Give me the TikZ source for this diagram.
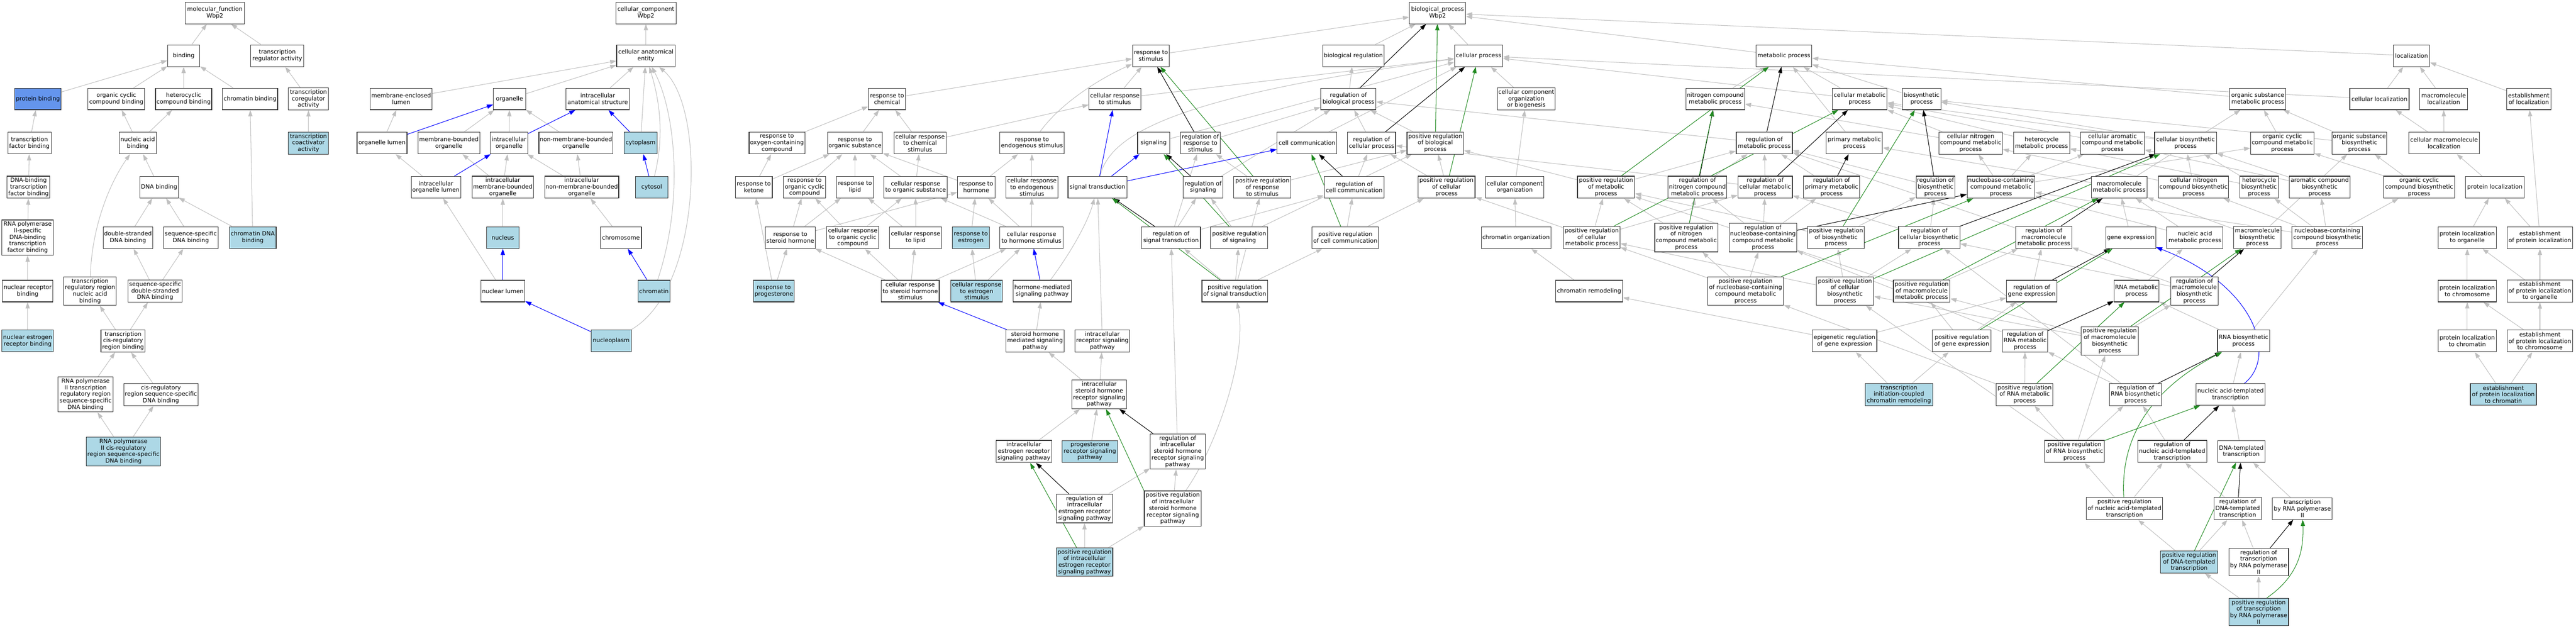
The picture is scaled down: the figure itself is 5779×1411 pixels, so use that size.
\documentclass[tikz,border=0pt]{standalone}
\usepackage{fontspec}
\setmainfont{DejaVu Sans}
\usetikzlibrary{arrows.meta,backgrounds}
\definecolor{lblue}{HTML}{ADD8E6}
\definecolor{cblue}{HTML}{6495ED}
\definecolor{egray}{HTML}{C0C0C0}
\definecolor{egreen}{HTML}{228B22}
\tikzset{
  gobox/.style={draw=black!80, line width=1.3pt, align=center, inner xsep=2pt, inner ysep=3.8pt,
    minimum height=48.5pt, font=\fontsize{13}{14.7}\selectfont},
  edgebase/.style={line width=1.2pt, -{Triangle[length=14pt,width=9.5pt]}},
  isa/.style={edgebase, draw=egray},
  partof/.style={edgebase, draw=blue},
  regl/.style={edgebase, draw=black},
  posr/.style={edgebase, draw=egreen}
}
\newcommand{\GOn}[6][white]{\node[gobox, fill=#1, minimum width=#5pt] (#2) at (#3,#4) {#6};}
\begin{document}
\begin{tikzpicture}[x=1pt,y=-1pt]
\useasboundingbox (0,0) rectangle (5779,1411);
% ---------- molecular function ----------
\GOn{mf}{482}{29}{132}{molecular\_function\\Wbp2}
\GOn{binding}{412}{125}{72}{binding}
\GOn{treg}{622}{125}{119}{transcription\\regulator activity}
\GOn[cblue]{protb}{85}{222}{104}{protein binding}
\GOn{occb}{261}{222}{127}{organic cyclic\\compound binding}
\GOn{hccb}{412}{222}{126}{heterocyclic\\compound binding}
\GOn{chromb}{561}{222}{124}{chromatin binding}
\GOn{tcoreg}{692}{222}{90}{transcription\\coregulator\\activity}
\GOn{tfb}{66}{321}{97}{transcription\\factor binding}
\GOn{nab}{309}{321}{83}{nucleic acid\\binding}
\GOn[lblue]{tcoact}{692}{321}{90}{transcription\\coactivator\\activity}
\GOn{dbtfb}{64}{420}{96}{DNA-binding\\transcription\\factor binding}
\GOn{dnab}{357}{420}{86}{DNA binding}
\GOn{rnap2tfb}{62}{533}{115}{RNA polymerase\\II-specific\\DNA-binding\\transcription\\factor binding}
\GOn{dsdnab}{287}{533}{111}{double-stranded\\DNA binding}
\GOn{ssdnab}{428}{533}{122}{sequence-specific\\DNA binding}
\GOn[lblue]{chromdnab}{567}{533}{105}{chromatin DNA\\binding}
\GOn{nrb}{62}{653}{113}{nuclear receptor\\binding}
\GOn{trrnab}{202}{653}{118}{transcription\\regulatory region\\nucleic acid\\binding}
\GOn{ssdsdnab}{348}{653}{122}{sequence-specific\\double-stranded\\DNA binding}
\GOn[lblue]{nerb}{62}{765}{115}{nuclear estrogen\\receptor binding}
\GOn{tcrrb}{276}{765}{99}{transcription\\cis-regulatory\\region binding}
\GOn{rnap2trr}{192}{885}{123}{RNA polymerase\\II transcription\\regulatory region\\sequence-specific\\DNA binding}
\GOn{crrss}{361}{885}{167}{cis-regulatory\\region sequence-specific\\DNA binding}
\GOn[lblue]{rnap2crr}{277}{1013}{166}{RNA polymerase\\II cis-regulatory\\region sequence-specific\\DNA binding}
% ---------- cellular component ----------
\GOn{cc}{1449}{29}{135}{cellular\_component\\Wbp2}
\GOn{cae}{1449}{125}{131}{cellular anatomical\\entity}
\GOn{mel}{900}{222}{139}{membrane-enclosed\\lumen}
\GOn{organelle}{1143}{222}{72}{organelle}
\GOn{ias}{1341}{222}{142}{intracellular\\anatomical structure}
\GOn{orglumen}{857}{321}{112}{organelle lumen}
\GOn{mbo}{1007}{321}{139}{membrane-bounded\\organelle}
\GOn{io}{1142}{321}{84}{intracellular\\organelle}
\GOn{nmbo}{1292}{321}{166}{non-membrane-bounded\\organelle}
\GOn[lblue]{cytoplasm}{1437}{321}{74}{cytoplasm}
\GOn{iol}{978}{420}{111}{intracellular\\organelle lumen}
\GOn{imbo}{1128}{420}{138}{intracellular\\membrane-bounded\\organelle}
\GOn{inmbo}{1305}{420}{166}{intracellular\\non-membrane-bounded\\organelle}
\GOn[lblue]{cytosol}{1462}{420}{73}{cytosol}
\GOn[lblue]{nucleus}{1128}{533}{73}{nucleus}
\GOn{chromosome}{1393}{533}{92}{chromosome}
\GOn{nuclumen}{1128}{653}{99}{nuclear lumen}
\GOn[lblue]{chromatin}{1467}{653}{72}{chromatin}
\GOn[lblue]{nucleoplasm}{1371}{765}{90}{nucleoplasm}
% ---------- biological process ----------
\GOn{bp}{3225}{29}{126}{biological\_process\\Wbp2}
\GOn{rstim}{2582}{125}{83}{response to\\stimulus}
\GOn{bioreg}{3036}{125}{138}{biological regulation}
\GOn{cellproc}{3317}{125}{108}{cellular process}
\GOn{metab}{4002}{125}{125}{metabolic process}
\GOn{loc}{5410}{125}{81}{localization}
% rank 3
\GOn{rchem}{1990}{222}{83}{response to\\chemical}
\GOn{crstim}{2501}{222}{116}{cellular response\\to stimulus}
\GOn{regbp}{3025}{222}{124}{regulation of\\biological process}
\GOn{ccob}{3424}{222}{130}{cellular component\\organization\\or biogenesis}
\GOn{ncmp}{3848}{222}{131}{nitrogen compound\\metabolic process}
\GOn{cmp}{4172}{222}{123}{cellular metabolic\\process}
\GOn{biosyn}{4311}{222}{86}{biosynthetic\\process}
\GOn{osmp}{5065}{222}{126}{organic substance\\metabolic process}
\GOn{cellloc}{5338}{222}{133}{cellular localization}
\GOn{macloc}{5482}{222}{107}{macromolecule\\localization}
\GOn{estloc}{5673}{222}{99}{establishment\\of localization}
% rank 4
\GOn{rocc}{1743}{321}{125}{response to\\oxygen-containing\\compound}
\GOn{ros}{1918}{321}{123}{response to\\organic substance}
\GOn{crcs}{2064}{321}{117}{cellular response\\to chemical\\stimulus}
\GOn{rendo}{2315}{321}{144}{response to\\endogenous stimulus}
\GOn{signaling}{2588}{321}{72}{signaling}
\GOn{rrs}{2693}{321}{89}{regulation of\\response to\\stimulus}
\GOn{cellcomm}{2932}{321}{134}{cell communication}
\GOn{regcp}{3077}{321}{108}{regulation of\\cellular process}
\GOn{posregbp}{3220}{321}{127}{positive regulation\\of biological\\process}
\GOn{regmp}{3958}{321}{126}{regulation of\\metabolic process}
\GOn{pmp}{4160}{321}{126}{primary metabolic\\process}
\GOn{cncmp}{4421}{321}{142}{cellular nitrogen\\compound metabolic\\process}
\GOn{hmp}{4580}{321}{126}{heterocycle\\metabolic process}
\GOn{camp}{4739}{321}{143}{cellular aromatic\\compound metabolic\\process}
\GOn{cbp}{4903}{321}{139}{cellular biosynthetic\\process}
\GOn{occmp}{5120}{321}{142}{organic cyclic\\compound metabolic\\process}
\GOn{osbp}{5293}{321}{123}{organic substance\\biosynthetic\\process}
\GOn{cmacloc}{5483}{321}{158}{cellular macromolecule\\localization}
% rank 5
\GOn{rket}{1691}{420}{83}{response to\\ketone}
\GOn{rocc2}{1805}{420}{95}{response to\\organic cyclic\\compound}
\GOn{rlipid}{1918}{420}{83}{response to\\lipid}
\GOn{cros}{2054}{420}{142}{cellular response\\to organic substance}
\GOn{rhorm}{2190}{420}{84}{response to\\hormone}
\GOn{crendo}{2315}{420}{117}{cellular response\\to endogenous\\stimulus}
\GOn{sigtrans}{2462}{420}{132}{signal transduction}
\GOn{regsig}{2699}{420}{89}{regulation of\\signaling}
\GOn{posregrs}{2832}{420}{128}{positive regulation\\of response\\to stimulus}
\GOn{regcc}{3038}{420}{135}{regulation of\\cell communication}
\GOn{posregcp}{3245}{420}{128}{positive regulation\\of cellular\\process}
\GOn{cco}{3398}{420}{130}{cellular component\\organization}
\GOn{posregmp}{3603}{420}{128}{positive regulation\\of metabolic\\process}
\GOn{regncmp}{3808}{420}{131}{regulation of\\nitrogen compound\\metabolic process}
\GOn{regcmp}{3960}{420}{122}{regulation of\\cellular metabolic\\process}
\GOn{regpmp}{4109}{420}{126}{regulation of\\primary metabolic\\process}
\GOn{regbiosyn}{4342}{420}{86}{regulation of\\biosynthetic\\process}
\GOn{nccmp}{4489}{420}{152}{nucleobase-containing\\compound metabolic\\process}
\GOn{macmp}{4754}{420}{125}{macromolecule\\metabolic process}
\GOn{cncbp}{4921}{420}{157}{cellular nitrogen\\compound biosynthetic\\process}
\GOn{hbp}{5068}{420}{87}{heterocycle\\biosynthetic\\process}
\GOn{acbp}{5204}{420}{137}{aromatic compound\\biosynthetic\\process}
\GOn{occbp}{5427}{420}{159}{organic cyclic\\compound biosynthetic\\process}
\GOn{protloc}{5597}{420}{131}{protein localization}
% rank 6
\GOn{rsteroid}{1773}{533}{112}{response to\\steroid hormone}
\GOn{crocc}{1913}{533}{117}{cellular response\\to organic cyclic\\compound}
\GOn{crlipid}{2054}{533}{117}{cellular response\\to lipid}
\GOn[lblue]{restr}{2178}{533}{83}{response to\\estrogen}
\GOn{crhorm}{2314}{533}{142}{cellular response\\to hormone stimulus}
\GOn{regst}{2627}{533}{132}{regulation of\\signal transduction}
\GOn{posregsig}{2780}{533}{128}{positive regulation\\of signaling}
\GOn{posregcc}{3018}{533}{149}{positive regulation\\of cell communication}
\GOn{chromorg}{3401}{533}{156}{chromatin organization}
\GOn{posregcmp}{3571}{533}{127}{positive regulation\\of cellular\\metabolic process}
\GOn{posregncmp}{3783}{533}{141}{positive regulation\\of nitrogen\\compound metabolic\\process}
\GOn{regnccmp}{3955}{533}{151}{regulation of\\nucleobase-containing\\compound metabolic\\process}
\GOn{posregbiosyn}{4119}{533}{127}{positive regulation\\of biosynthetic\\process}
\GOn{regcbp}{4328}{533}{138}{regulation of\\cellular biosynthetic\\process}
\GOn{regmacmp}{4585}{533}{126}{regulation of\\macromolecule\\metabolic process}
\GOn{geneexp}{4780}{533}{112}{gene expression}
\GOn{namp}{4924}{533}{126}{nucleic acid\\metabolic process}
\GOn{macbp}{5064}{533}{106}{macromolecule\\biosynthetic\\process}
\GOn{ncbp}{5221}{533}{158}{nucleobase-containing\\compound biosynthetic\\process}
\GOn{plorg}{5535}{533}{131}{protein localization\\to organelle}
\GOn{estploc}{5698}{533}{147}{establishment\\of protein localization}
% rank 7
\GOn[lblue]{rprog}{1736}{653}{91}{response to\\progesterone}
\GOn{crsteroid}{2042}{653}{130}{cellular response\\to steroid hormone\\stimulus}
\GOn[lblue]{crestr}{2191}{653}{116}{cellular response\\to estrogen\\stimulus}
\GOn{hmsp}{2338}{653}{131}{hormone-mediated\\signaling pathway}
\GOn{posregst}{2770}{653}{147}{positive regulation\\of signal transduction}
\GOn{chromrem}{3565}{653}{150}{chromatin remodeling}
\GOn{posregnccmp}{3916}{653}{170}{positive regulation\\of nucleobase-containing\\compound metabolic\\process}
\GOn{posregcbp}{4139}{653}{129}{positive regulation\\of cellular\\biosynthetic\\process}
\GOn{posregmacmp}{4311}{653}{127}{positive regulation\\of macromolecule\\metabolic process}
\GOn{reggeneexp}{4558}{653}{113}{regulation of\\gene expression}
\GOn{rnamp}{4793}{653}{101}{RNA metabolic\\process}
\GOn{regmacbp}{4923}{653}{106}{regulation of\\macromolecule\\biosynthetic\\process}
\GOn{plchrom}{5535}{653}{131}{protein localization\\to chromosome}
\GOn{estplorg}{5698}{653}{147}{establishment\\of protein localization\\to organelle}
% rank 8
\GOn{shmsp}{2322}{765}{131}{steroid hormone\\mediated signaling\\pathway}
\GOn{irsp}{2473}{765}{122}{intracellular\\receptor signaling\\pathway}
\GOn{epigen}{4138}{765}{145}{epigenetic regulation\\of gene expression}
\GOn{posreggeneexp}{4401}{765}{132}{positive regulation\\of gene expression}
\GOn{regrnamp}{4543}{765}{102}{regulation of\\RNA metabolic\\process}
\GOn{posregmacbp}{4733}{765}{128}{positive regulation\\of macromolecule\\biosynthetic\\process}
\GOn{rnabp}{5033}{765}{117}{RNA biosynthetic\\process}
\GOn{plchromatin}{5535}{765}{131}{protein localization\\to chromatin}
\GOn{estplchrom}{5698}{765}{147}{establishment\\of protein localization\\to chromosome}
% rank 9
\GOn{ishrsp}{2466}{885}{123}{intracellular\\steroid hormone\\receptor signaling\\pathway}
\GOn[lblue]{ticcr}{4260}{885}{151}{transcription\\initiation-coupled\\chromatin remodeling}
\GOn{posregrnamp}{4542}{885}{127}{positive regulation\\of RNA metabolic\\process}
\GOn{regrnabp}{4791}{885}{117}{regulation of\\RNA biosynthetic\\process}
\GOn{natt}{5004}{885}{154}{nucleic acid-templated\\transcription}
\GOn[lblue]{estplchromatin}{5616}{885}{148}{establishment\\of protein localization\\to chromatin}
% rank 10
\GOn{iersp}{2297}{1013}{125}{intracellular\\estrogen receptor\\signaling pathway}
\GOn[lblue]{prsp}{2445}{1013}{124}{progesterone\\receptor signaling\\pathway}
\GOn{regishrsp}{2642}{1013}{123}{regulation of\\intracellular\\steroid hormone\\receptor signaling\\pathway}
\GOn{posregrnabp}{4654}{1013}{134}{positive regulation\\of RNA biosynthetic\\process}
\GOn{regnatt}{4873}{1013}{155}{regulation of\\nucleic acid-templated\\transcription}
\GOn{dtt}{5028}{1013}{106}{DNA-templated\\transcription}
% rank 11
\GOn{regiersp}{2433}{1141}{126}{regulation of\\intracellular\\estrogen receptor\\signaling pathway}
\GOn{posregishrsp}{2631}{1141}{128}{positive regulation\\of intracellular\\steroid hormone\\receptor signaling\\pathway}
\GOn{posregnatt}{4766}{1141}{171}{positive regulation\\of nucleic acid-templated\\transcription}
\GOn{regdtt}{5020}{1141}{106}{regulation of\\DNA-templated\\transcription}
\GOn{trnap2}{5165}{1141}{134}{transcription\\by RNA polymerase\\II}
% rank 12
\GOn[lblue]{posregiersp}{2433}{1261}{127}{positive regulation\\of intracellular\\estrogen receptor\\signaling pathway}
\GOn[lblue]{posregdtt}{4911}{1261}{128}{positive regulation\\of DNA-templated\\transcription}
\GOn{regtrnap2}{5067}{1261}{134}{regulation of\\transcription\\by RNA polymerase\\II}
% rank 13
\GOn[lblue]{posregtrnap2}{5067}{1373}{134}{positive regulation\\of transcription\\by RNA polymerase\\II}
% ---------- edges ----------
\begin{pgfonlayer}{background}
\fill[white] (0,0) rectangle (5779,1411);
\foreach \a/\b in {binding/mf, treg/mf, protb/binding, occb/binding, hccb/binding, chromb/binding,
  tcoreg/treg, tfb/protb, nab/occb, nab/hccb, tcoact/tcoreg, dbtfb/tfb, dnab/nab, rnap2tfb/dbtfb,
  dsdnab/dnab, ssdnab/dnab, chromdnab/dnab, chromdnab/chromb, nrb/rnap2tfb,
  ssdsdnab/dsdnab, ssdsdnab/ssdnab, nerb/nrb, tcrrb/trrnab, tcrrb/ssdsdnab, rnap2trr/tcrrb,
  crrss/tcrrb, rnap2crr/rnap2trr, rnap2crr/crrss,
  cae/cc, mel/cae, organelle/cae, ias/cae, cytoplasm/cae,
  orglumen/mel, mbo/organelle, io/organelle, nmbo/organelle, iol/orglumen, imbo/mbo, imbo/io,
  inmbo/io, inmbo/nmbo, nucleus/imbo, chromosome/inmbo, nuclumen/iol,
  rstim/bp, bioreg/bp, cellproc/bp, metab/bp, loc/bp, rchem/rstim, crstim/rstim, crstim/cellproc,
  regbp/bioreg, signaling/cellproc, cellcomm/cellproc, regcp/regbp,
  posregbp/regbp, rrs/regbp, regsig/regbp, posregrs/rrs, posregrs/posregbp, regcc/regcp,
  posregcp/regcp, posregcp/posregbp, posregsig/regsig, posregsig/posregbp, regst/regsig, regst/rrs,
  regst/regcc, posregcc/regcc, posregcc/posregcp, posregst/regst, posregst/posregsig,
  posregst/posregcc, posregst/posregrs,
  rocc/rchem, ros/rchem, crcs/rchem, crcs/crstim, rket/rocc, rket/ros, rocc2/ros, rlipid/ros,
  cros/ros, cros/crcs, rhorm/ros, rhorm/rendo, crendo/rendo, rsteroid/rocc2, rsteroid/rlipid,
  rsteroid/rhorm, crocc/rocc2, crocc/cros, crlipid/rlipid, crlipid/cros, restr/rhorm, crhorm/rhorm,
  crhorm/crendo, crhorm/cros, rprog/rket, rprog/rsteroid, crsteroid/rsteroid, crsteroid/crocc,
  crsteroid/crlipid, crsteroid/crhorm, crestr/restr, crestr/crhorm, shmsp/hmsp,
  irsp/sigtrans, ishrsp/shmsp, ishrsp/irsp, iersp/ishrsp, prsp/ishrsp, regishrsp/regst,
  regiersp/regishrsp, posregishrsp/regishrsp, posregiersp/regiersp,
  posregiersp/posregishrsp,
  ccob/cellproc, cco/ccob, chromorg/cco, chromrem/chromorg, epigen/chromrem, ticcr/epigen,
  ticcr/posreggeneexp,
  ncmp/metab, cmp/metab, cmp/cellproc, biosyn/metab, pmp/metab, osmp/metab, regmp/regbp,
  cncmp/ncmp, cncmp/cmp, hmp/cmp, camp/cmp, cbp/biosyn, cbp/cmp, occmp/osmp, osbp/osmp,
  osbp/biosyn, cellloc/loc, cellloc/cellproc, macloc/loc, estloc/loc, cmacloc/cellloc,
  cmacloc/macloc, protloc/cmacloc, plorg/protloc, estploc/protloc, estploc/estloc, plchrom/plorg,
  estplorg/plorg, estplorg/estploc, plchromatin/plchrom, estplchrom/plchrom, estplchrom/estplorg,
  estplchromatin/plchromatin, estplchromatin/estplchrom,
  posregmp/regmp, posregmp/posregbp, regncmp/regmp, regcmp/regmp, regcmp/regcp, regpmp/regmp,
  regbiosyn/regmp, posregcmp/posregmp, posregcmp/regcmp, posregcmp/posregcp, posregncmp/regncmp,
  posregncmp/posregmp, regnccmp/regcmp, regnccmp/regncmp, regnccmp/regpmp, posregbiosyn/regbiosyn,
  posregbiosyn/posregmp, regcbp/regbiosyn, regcbp/regcmp, regmacmp/regmp, posregnccmp/regnccmp,
  posregnccmp/posregncmp, posregnccmp/posregcmp, posregcbp/regcbp, posregcbp/posregbiosyn,
  posregcbp/posregcmp, posregmacmp/regmacmp, posregmacmp/posregmp, reggeneexp/regmacmp,
  rnamp/namp, namp/macmp, namp/nccmp, geneexp/macmp, macbp/osbp, macbp/macmp, ncbp/nccmp,
  ncbp/cncbp, ncbp/hbp, ncbp/acbp, ncbp/occbp, nccmp/cncmp, nccmp/hmp, nccmp/camp, nccmp/occmp,
  macmp/osmp, macmp/pmp, cncbp/cncmp, cncbp/cbp, hbp/hmp, hbp/cbp, acbp/camp, acbp/cbp,
  occbp/occmp, occbp/osbp, regmacbp/regmacmp, regmacbp/regcbp, posregmacbp/regmacbp,
  posregmacbp/posregmacmp, posregmacbp/posregcbp, epigen/reggeneexp, posreggeneexp/reggeneexp,
  posreggeneexp/posregmacmp, regrnamp/regnccmp, posregrnamp/regrnamp, posregrnamp/posregnccmp,
  regrnabp/regrnamp, regrnabp/regcbp, rnabp/rnamp, rnabp/ncbp, natt/rnabp,
  posregrnabp/posregrnamp, posregrnabp/posregmacbp, posregrnabp/regrnabp, posregrnabp/posregcbp,
  regnatt/regrnabp, dtt/natt, posregnatt/posregrnabp, posregnatt/regnatt, regdtt/regnatt,
  trnap2/dtt, posregdtt/posregnatt, posregdtt/regdtt, regtrnap2/regdtt, posregtrnap2/posregdtt,
  posregtrnap2/regtrnap2}
  \draw[isa] (\a) -- (\b);
% curved grey edges
\draw[isa] (trrnab) .. controls (205,520) and (240,420) .. (nab);
\draw[isa] (nucleoplasm) .. controls (1575,650) and (1585,240) .. (cae);
\draw[isa] (chromatin) .. controls (1535,450) and (1515,250) .. (cae);
\draw[isa] (cytosol) .. controls (1492,300) and (1478,220) .. (cae);
\draw[isa] (rendo) .. controls (2380,230) and (2470,175) .. (rstim);
\draw[isa] (sigtrans) .. controls (2490,300) and (2640,215) .. (cellproc);
\draw[isa] (hmsp) .. controls (2400,570) and (2440,500) .. (sigtrans);
\draw[isa] (posregishrsp) .. controls (2725,1010) and (2800,800) .. (posregst);
% part_of
\foreach \a/\b in {orglumen/organelle, io/ias, cytoplasm/ias, iol/io, cytosol/cytoplasm,
  nuclumen/nucleus, chromatin/chromosome, nucleoplasm/nuclumen, sigtrans/crstim,
  sigtrans/signaling, sigtrans/cellcomm, hmsp/crhorm, shmsp/crsteroid}
  \draw[partof] (\a) -- (\b);
\draw[partof] (natt) .. controls (5110,800) and (5060,640) .. (geneexp);
% regulates
\foreach \a/\b in {regbp/bp, regcp/cellproc, rrs/rstim, regsig/signaling, regcc/cellcomm,
  regst/sigtrans, regishrsp/ishrsp, regiersp/iersp, regmp/metab, regncmp/ncmp, regcmp/cmp,
  regpmp/pmp, regbiosyn/biosyn, regnccmp/nccmp, regcbp/cbp, regmacmp/macmp, reggeneexp/geneexp,
  regmacbp/macbp, regrnamp/rnamp, regrnabp/rnabp, regnatt/natt, regdtt/dtt, regtrnap2/trnap2}
  \draw[regl] (\a) -- (\b);
% positively regulates
\foreach \a/\b in {posregbp/bp, posregcp/cellproc, posregrs/rstim, posregsig/signaling,
  posregcc/cellcomm, posregst/sigtrans, posregiersp/iersp, posregmp/metab,
  posregncmp/ncmp, posregcmp/cmp, posregbiosyn/biosyn, posregnccmp/nccmp, posregcbp/cbp,
  posregmacmp/macmp, posreggeneexp/geneexp, posregmacbp/macbp, posregrnamp/rnamp,
  posregrnabp/natt, posregdtt/dtt}
  \draw[posr] (\a) -- (\b);
\draw[posr] (posregishrsp.north west) -- (ishrsp);
\draw[posr] (posregnatt) .. controls (4755,960) and (4850,860) .. (rnabp);
\draw[posr] (posregtrnap2.60) .. controls (5160,1290) and (5168,1230) .. (trnap2);
\end{pgfonlayer}
\end{tikzpicture}
\end{document}
